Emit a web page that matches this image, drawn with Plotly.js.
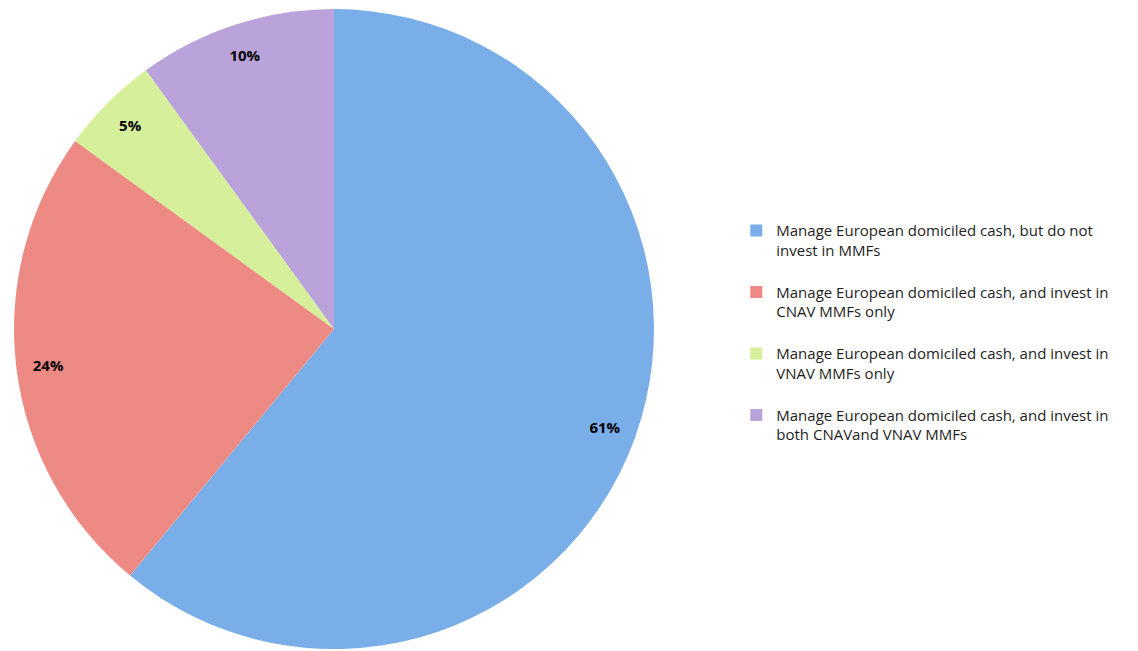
<!DOCTYPE html>
<html>
<head>
<meta charset="utf-8">
<script src="https://cdn.plot.ly/plotly-3.0.1.min.js"></script>
<style>html,body{margin:0;padding:0;background:#fff;}#chart{width:1138px;height:651px;}</style>
</head>
<body>
<div id="chart"></div>
<script>
const categories = [
  "Manage European domiciled cash, but do not<br>invest in MMFs",
  "Manage European domiciled cash, and invest in<br>CNAV MMFs only",
  "Manage European domiciled cash, and invest in<br>VNAV MMFs only",
  "Manage European domiciled cash, and invest in<br>both CNAVand VNAV MMFs"
];
const values = [61, 24, 5, 10];
const sliceColors = ["#79aee8", "#ee8a84", "#d6ef9b", "#baa3da"];

// trailing blank line gives the legend entries the reference's spacing
const legendLabels = categories.map(c => c + "<br> ");
const pieDomain = { x: [0.0123, 0.5747], y: [0.003, 0.986] };

const slices = {
  type: "pie",
  labels: legendLabels,
  values: values,
  sort: false,
  direction: "clockwise",
  rotation: 0,
  marker: { colors: sliceColors, line: { width: 0 } },
  textinfo: "none",
  domain: pieDomain,
  hoverinfo: "skip"
};

const labelRing = {
  type: "pie",
  labels: legendLabels,
  values: values,
  sort: false,
  direction: "clockwise",
  rotation: 0,
  hole: 0.8,
  showlegend: false,
  marker: { colors: ["rgba(0,0,0,0)", "rgba(0,0,0,0)", "rgba(0,0,0,0)", "rgba(0,0,0,0)"], line: { width: 0 } },
  texttemplate: "%{value}%",
  textposition: "inside",
  insidetextorientation: "horizontal",
  textfont: { family: "Open Sans, sans-serif", size: 15, color: "#000", weight: "bold" },
  domain: pieDomain,
  hoverinfo: "skip"
};

const layout = {
  width: 1138,
  height: 651,
  margin: { l: 0, r: 0, t: 0, b: 0 },
  paper_bgcolor: "#fff",
  showlegend: true,
  legend: {
    x: 0.647, y: 0.671, xanchor: "left", yanchor: "top",
    valign: "top",
    font: { family: "Open Sans, sans-serif", size: 15, color: "#1e1e1e" },
    traceorder: "normal"
  },
  uniformtext: { minsize: 15, mode: "show" }
};

Plotly.newPlot("chart", [slices, labelRing], layout, { displayModeBar: false, staticPlot: true });
</script>
</body>
</html>
